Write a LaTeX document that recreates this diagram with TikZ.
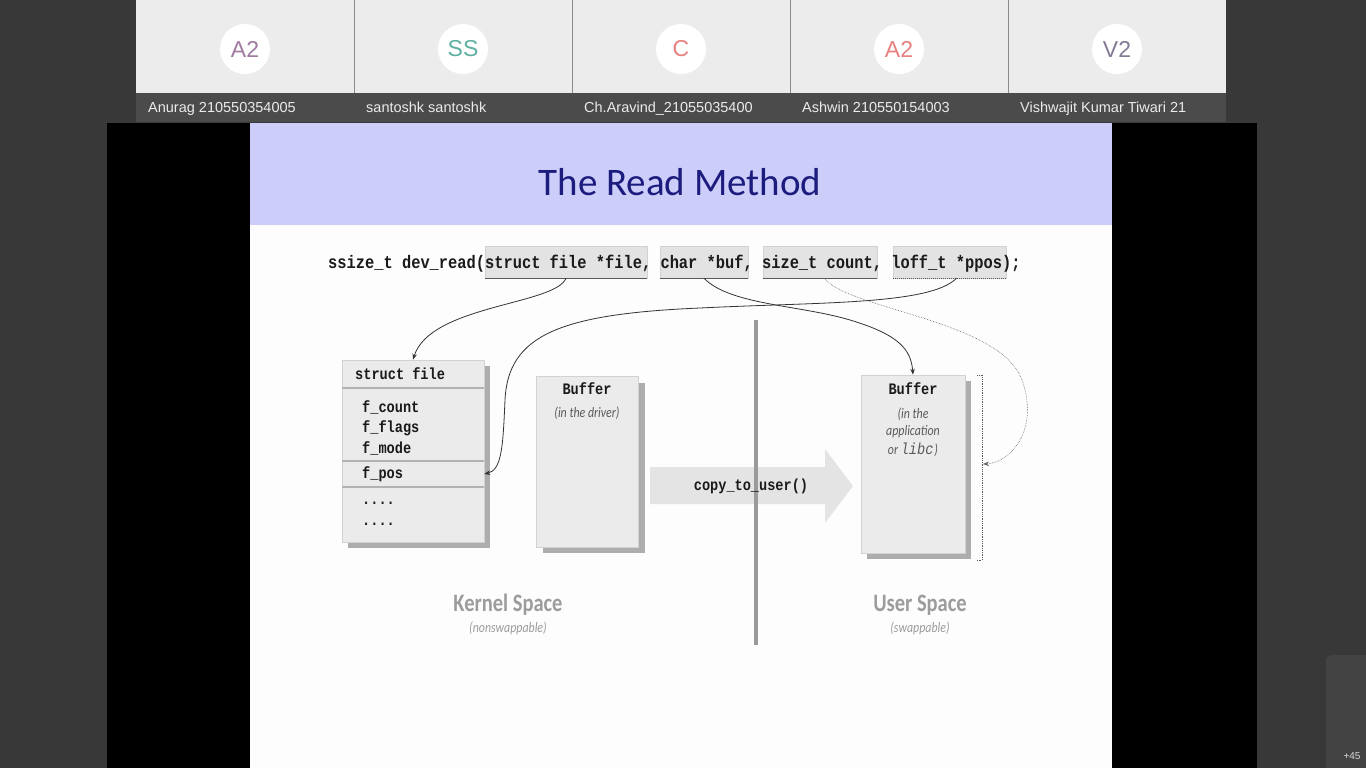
\documentclass[tikz,border=0pt]{standalone}
\usepackage{fontspec}
\usetikzlibrary{arrows.meta}
\newfontfamily\uifont{Liberation Sans}
\newfontfamily\titlefont{Carlito}
\newfontfamily\codefont[FakeStretch=0.85]{Liberation Mono}
\newfontfamily\capfont[FakeStretch=0.82]{Carlito}
\definecolor{bgdark}{HTML}{383838}
\definecolor{tilebg}{HTML}{ECECEC}
\definecolor{namebar}{HTML}{4B4B4B}
\definecolor{tilesep}{HTML}{8A8A8A}
\definecolor{slidewhite}{HTML}{FDFDFD}
\definecolor{headerblue}{HTML}{CDCDFA}
\definecolor{titlecol}{HTML}{1C1C7E}
\definecolor{boxgray}{HTML}{EBEBEB}
\definecolor{boxedge}{HTML}{D2D2D2}
\definecolor{shadowgray}{HTML}{ADADAD}
\definecolor{codecol}{HTML}{1A1A1A}
\definecolor{notecol}{HTML}{5A5A5A}
\definecolor{capcol}{HTML}{9C9C9C}
\definecolor{divcol}{HTML}{9A9A9A}
\definecolor{arrowfill}{HTML}{E4E4E4}
\definecolor{parambox}{HTML}{E3E3E3}
\definecolor{avA}{HTML}{A07AA0}
\definecolor{avS}{HTML}{5FB0A0}
\definecolor{avC}{HTML}{E88080}
\definecolor{avV}{HTML}{857A96}
\definecolor{moretile}{HTML}{434343}
\begin{document}
\begin{tikzpicture}[x=1pt,y=-1pt,
  conn/.style={draw=black!80, line width=0.8pt, -{Stealth[length=6pt,width=4.5pt]}},
  dconn/.style={draw=black!60, line width=0.6pt, densely dotted, -{Stealth[length=6pt,width=4.5pt]}},
  pbox/.style={fill=parambox, draw=boxedge, line width=0.5pt, inner sep=0, minimum height=32},
  box/.style={fill=boxgray, draw=boxedge, line width=0.6pt, inner sep=0},
  codetxt/.style={font=\codefont\bfseries\fontsize{18.1}{20}\selectfont, text=codecol, inner sep=0},
  lbl/.style={font=\codefont\bfseries\fontsize{16}{18}\selectfont, text=codecol, inner sep=0},
  note/.style={font=\capfont\itshape\fontsize{14.5}{15}\selectfont, text=notecol, inner sep=0},
  captxt/.style={font=\capfont\bfseries\fontsize{25}{26}\selectfont, text=capcol, inner sep=0},
  avatar/.style={circle, fill=white, minimum size=50, inner sep=0, font=\uifont\fontsize{23}{24}\selectfont},
  pname/.style={anchor=base west, inner sep=0, text=white!92!black, font=\uifont\fontsize{14.5}{16}\selectfont},
]
\useasboundingbox (0,0) rectangle (1366,768);
% ---------- background / frame ----------
\fill[bgdark] (0,0) rectangle (1366,768);
\fill[black] (107,123) rectangle (1257,768);
\fill[slidewhite] (250,123) rectangle (1112,768);
\fill[headerblue] (250,123) rectangle (1112,225);
% ---------- participant tiles ----------
\foreach \i in {0,...,4}{
  \fill[tilebg] (136+218*\i,0) rectangle (354+218*\i,93);
  \fill[namebar] (136+218*\i,93) rectangle (354+218*\i,122);
}
\foreach \i in {1,...,4}{
  \draw[tilesep, line width=0.8pt] (136+218*\i,0) -- (136+218*\i,93);
}
\node[avatar, text=avA] (av1) at (245,49) {A2};
\node[avatar, text=avS] (av2) at (463,49) {SS};
\node[avatar, text=avC] (av3) at (681,49) {C};
\node[avatar, text=avC] (av4) at (899,49) {A2};
\node[avatar, text=avV] (av5) at (1117,49) {V2};
\node[pname] (n1) at (148,113) {Anurag 210550354005};
\node[pname] (n2) at (366,113) {santoshk santoshk};
\node[pname] (n3) at (584,113) {Ch.Aravind\_21055035400};
\node[pname] (n4) at (802,113) {Ashwin 210550154003};
\node[pname] (n5) at (1020,113) {Vishwajit Kumar Tiwari 21};
\fill[moretile, rounded corners=6pt] (1326,655) rectangle (1380,790);
\node[inner sep=0, text=white!85!black, font=\uifont\fontsize{10}{11}\selectfont] (more) at (1352,756) {+45};
% ---------- title ----------
\node[inner sep=0, text=titlecol, font=\titlefont\fontsize{39}{40}\selectfont] (title) at (680,182) {The Read Method};
% ---------- prototype ----------
\node[pbox, minimum width=162] (pfile) at (566,262) {};
\node[pbox, minimum width=88] (pbuf) at (704,262) {};
\node[pbox, minimum width=114] (pcount) at (820,262) {};
\node[pbox, minimum width=113] (pppos) at (949.5,262) {};
\draw[black!65, line width=1pt] (pfile.south west) -- (pfile.south east);
\draw[black!65, line width=1pt] (pbuf.south west) -- (pbuf.south east);
\draw[black!65, line width=1pt] (pcount.south west) -- (pcount.south east);
\draw[black!65, line width=1pt, densely dotted] (pppos.south west) -- (pppos.south east);
\node[codetxt, anchor=west] (proto) at (328,264) {ssize\_t dev\_read(struct file *file, char *buf, size\_t count, loff\_t *ppos);};
% ---------- struct file ----------
\fill[shadowgray] (348,366) rectangle (490,548);
\node[box, minimum width=142, minimum height=182] (sfile) at (413,451) {};
\draw[black!30, line width=2.5pt] (342,388) -- (484,388);
\draw[black!30, line width=2.5pt] (342,461) -- (484,461);
\draw[black!30, line width=2.5pt] (342,487) -- (484,487);
\node[lbl, anchor=west] (shead) at (355,374) {struct file};
\node[lbl, anchor=west] (fcount) at (362,407) {f\_count};
\node[lbl, anchor=west] (fflags) at (362,428) {f\_flags};
\node[lbl, anchor=west] (fmode) at (362,448) {f\_mode};
\node[inner sep=0, minimum width=142, minimum height=24] (fposrow) at (413,474) {};
\node[lbl, anchor=west] (fpos) at (362,474) {f\_pos};
\node[lbl, anchor=west] (dots1) at (362,503) {....};
\node[lbl, anchor=west] (dots2) at (362,524) {....};
% ---------- driver buffer ----------
\fill[shadowgray] (543,383) rectangle (645,553);
\node[box, minimum width=102, minimum height=171] (kbuf) at (587,462) {};
\node[lbl] (kbuft) at (587,389) {Buffer};
\node[note] (kbufn) at (587,413) {(in the driver)};
% ---------- user buffer ----------
\fill[shadowgray] (867,381) rectangle (971,559);
\node[box, minimum width=104, minimum height=178] (ubuf) at (913,464) {};
\node[lbl] (ubuft) at (913,389) {Buffer};
\node[note] (ubufn1) at (913,414) {(in the};
\node[note] (ubufn2) at (913,432) {application};
\node[note] (ubufn3) at (913,450) {or {\codefont\mdseries\fontsize{16}{17}\selectfont libc}\kern1pt)};
% ---------- bracket ----------
\draw[black!65, line width=0.8pt, densely dotted] (977,375) -- (982,375) -- (982,560) -- (977,560);
\coordinate (brk) at (983,464);
% ---------- copy_to_user arrow & divider ----------
\fill[arrowfill] (650,467) -- (825,467) -- (825,449) -- (853,486) -- (825,523) -- (825,504) -- (650,504) -- cycle;
\draw[divcol, line width=4pt] (756,320) -- (756,645);
\node[lbl] (ctu) at (751,486) {copy\_to\_user()};
% ---------- space captions ----------
\node[captxt] (kspace) at (508,605) {Kernel Space};
\node[note, text=capcol] (kspacen) at (508,628) {(nonswappable)};
\node[captxt] (uspace) at (920,605) {User Space};
\node[note, text=capcol] (uspacen) at (920,628) {(swappable)};
% ---------- connectors ----------
\draw[conn] (pfile.south) .. controls (555,305) and (430,305) .. (sfile.north);
\draw[conn] ([xshift=7pt]pppos.south) .. controls (930,305) and (820,302) .. (700,308)
   .. controls (560,314) and (508,335) .. (505,400)
   .. controls (503,445) and (502,470) .. (fposrow.east);
\draw[conn] (pbuf.south) .. controls (730,305) and (800,305) .. (850,320)
   .. controls (900,335) and (911,350) .. (ubuf.north);
\draw[dconn] ([xshift=4pt]pcount.south) .. controls (850,310) and (1000,320) .. (1022,380)
   .. controls (1040,430) and (1010,463) .. (brk);
\end{tikzpicture}
\end{document}
